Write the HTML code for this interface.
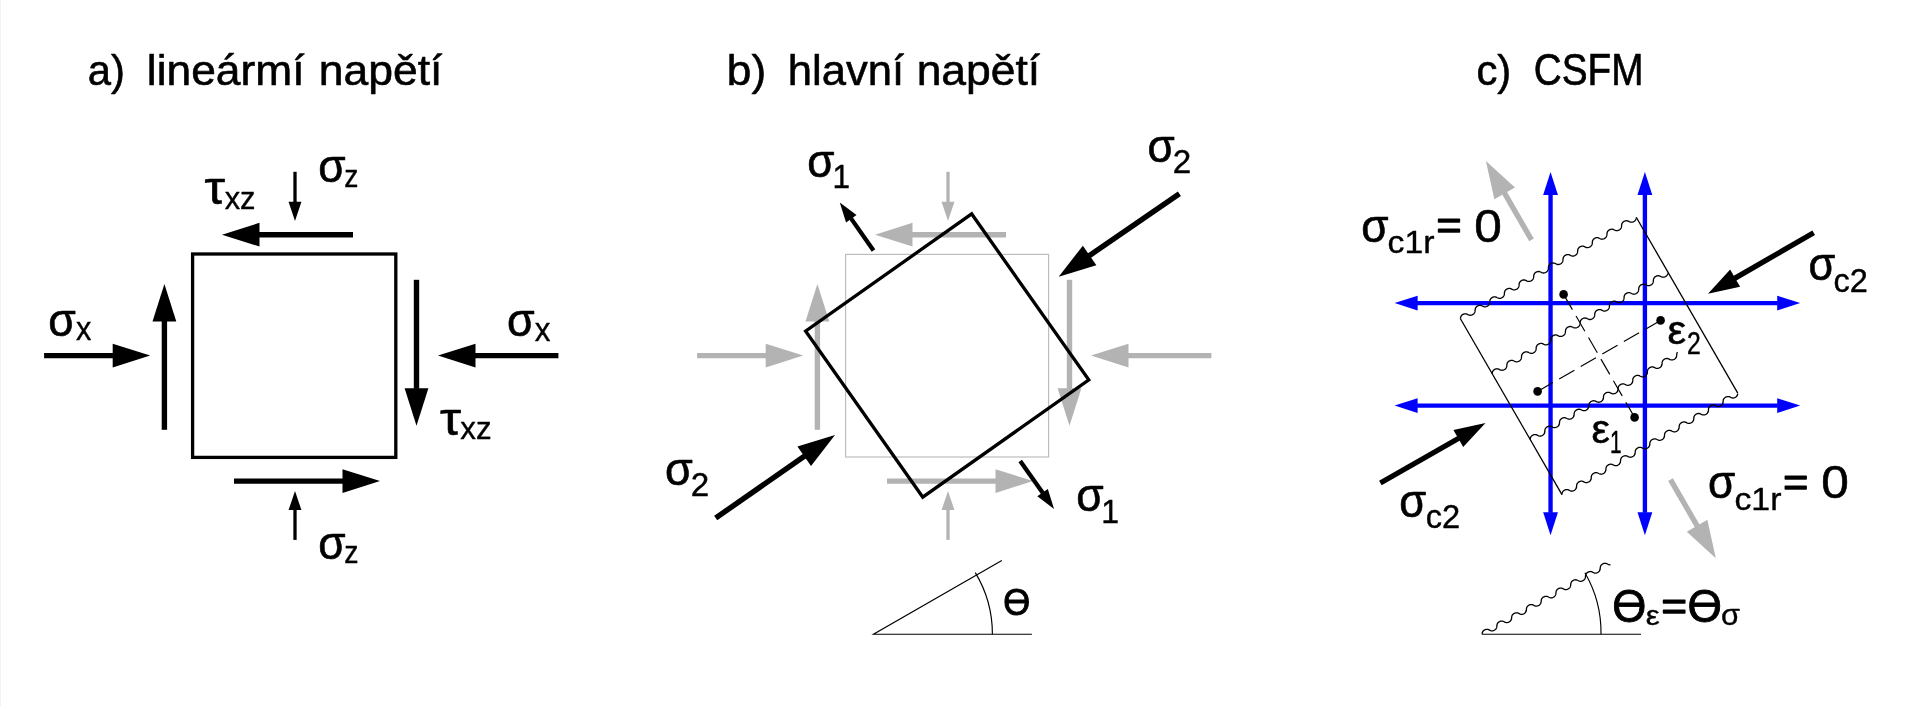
<!DOCTYPE html>
<html lang="cs"><head><meta charset="utf-8"><title>lineární napětí, hlavní napětí, CSFM</title>
<style>
html,body{margin:0;padding:0;background:#fff;overflow:hidden}
svg{display:block;will-change:transform}
text{vector-effect:non-scaling-stroke;stroke-linejoin:round;font-family:"Liberation Sans",sans-serif;font-size:100px;font-kerning:none;white-space:pre}
</style></head><body>
<svg width="1917" height="706" viewBox="0 0 1917 706">
<rect width="1917" height="706" fill="#fff"/>
<rect x="0" y="0" width="1" height="706" fill="#f3f3f3"/>
<line x1="353.00" y1="234.70" x2="259.00" y2="234.70" stroke="#000" stroke-width="5.4"/>
<polygon points="222.00,234.70 259.50,222.80 259.50,246.60" fill="#000"/>
<line x1="234.00" y1="481.10" x2="343.00" y2="481.10" stroke="#000" stroke-width="5.4"/>
<polygon points="380.00,481.10 342.50,493.00 342.50,469.20" fill="#000"/>
<line x1="164.40" y1="429.80" x2="164.40" y2="320.90" stroke="#000" stroke-width="5.4"/>
<polygon points="164.40,283.90 176.30,321.40 152.50,321.40" fill="#000"/>
<line x1="416.50" y1="279.80" x2="416.50" y2="388.80" stroke="#000" stroke-width="5.4"/>
<polygon points="416.50,425.80 404.60,388.30 428.40,388.30" fill="#000"/>
<line x1="44.10" y1="355.60" x2="113.20" y2="355.60" stroke="#000" stroke-width="5.4"/>
<polygon points="150.20,355.60 112.70,367.50 112.70,343.70" fill="#000"/>
<line x1="558.40" y1="355.60" x2="475.00" y2="355.60" stroke="#000" stroke-width="5.4"/>
<polygon points="438.00,355.60 475.50,343.70 475.50,367.50" fill="#000"/>
<line x1="295.00" y1="171.80" x2="295.00" y2="202.30" stroke="#000" stroke-width="3.3"/>
<polygon points="295.00,221.00 288.55,201.80 301.45,201.80" fill="#000"/>
<line x1="295.00" y1="539.90" x2="295.00" y2="509.60" stroke="#000" stroke-width="3.3"/>
<polygon points="295.00,490.90 301.45,510.10 288.55,510.10" fill="#000"/>
<rect x="192.6" y="254" width="203.2" height="203.4" fill="none" stroke="#000" stroke-width="3.3"/>
<rect x="845.6" y="254.4" width="203" height="202.6" fill="none" stroke="#bdbdbd" stroke-width="1.2"/>
<line x1="1006.00" y1="234.70" x2="912.00" y2="234.70" stroke="#b3b3b3" stroke-width="5.4"/>
<polygon points="875.00,234.70 912.50,222.80 912.50,246.60" fill="#b3b3b3"/>
<line x1="887.00" y1="481.10" x2="996.00" y2="481.10" stroke="#b3b3b3" stroke-width="5.4"/>
<polygon points="1033.00,481.10 995.50,493.00 995.50,469.20" fill="#b3b3b3"/>
<line x1="817.40" y1="429.80" x2="817.40" y2="320.90" stroke="#b3b3b3" stroke-width="5.4"/>
<polygon points="817.40,283.90 829.30,321.40 805.50,321.40" fill="#b3b3b3"/>
<line x1="1069.50" y1="279.80" x2="1069.50" y2="388.80" stroke="#b3b3b3" stroke-width="5.4"/>
<polygon points="1069.50,425.80 1057.60,388.30 1081.40,388.30" fill="#b3b3b3"/>
<line x1="697.10" y1="355.60" x2="766.20" y2="355.60" stroke="#b3b3b3" stroke-width="5.4"/>
<polygon points="803.20,355.60 765.70,367.50 765.70,343.70" fill="#b3b3b3"/>
<line x1="1211.40" y1="355.60" x2="1128.00" y2="355.60" stroke="#b3b3b3" stroke-width="5.4"/>
<polygon points="1091.00,355.60 1128.50,343.70 1128.50,367.50" fill="#b3b3b3"/>
<line x1="948.00" y1="171.80" x2="948.00" y2="202.30" stroke="#b3b3b3" stroke-width="3.3"/>
<polygon points="948.00,221.00 941.55,201.80 954.45,201.80" fill="#b3b3b3"/>
<line x1="948.00" y1="539.90" x2="948.00" y2="509.60" stroke="#b3b3b3" stroke-width="3.3"/>
<polygon points="948.00,490.90 954.45,510.10 941.55,510.10" fill="#b3b3b3"/>
<rect x="845.6" y="253.9" width="203.2" height="203.2" fill="none" stroke="#000" stroke-width="3.3" transform="rotate(-35.2 947.2 355.5)"/>
<line x1="1179.40" y1="193.70" x2="1089.19" y2="255.74" stroke="#000" stroke-width="5.4"/>
<polygon points="1058.70,276.70 1082.86,245.65 1096.34,265.26" fill="#000"/>
<line x1="715.70" y1="518.00" x2="804.64" y2="456.05" stroke="#000" stroke-width="5.4"/>
<polygon points="835.00,434.90 811.03,466.10 797.43,446.57" fill="#000"/>
<line x1="873.50" y1="250.50" x2="850.99" y2="218.37" stroke="#000" stroke-width="4.3"/>
<polygon points="839.80,202.40 856.52,215.11 846.03,222.45" fill="#000"/>
<line x1="1020.20" y1="461.00" x2="1042.85" y2="493.07" stroke="#000" stroke-width="4.3"/>
<polygon points="1054.10,509.00 1037.33,496.36 1047.79,488.97" fill="#000"/>
<path d="M1031.9,634.2 L873.5,634.2 L1001.8,560.4" fill="none" stroke="#000" stroke-width="1.15"/>
<path d="M992.4,634.2 A118.9,118.9 0 0 0 975.3,572.6" fill="none" stroke="#000" stroke-width="1.15"/>
<line x1="1550.55" y1="194.60" x2="1550.55" y2="512.70" stroke="#0000ff" stroke-width="4.35"/>
<polygon points="1550.55,172.10 1543.15,195.10 1557.95,195.10" fill="#0000ff"/>
<polygon points="1550.55,535.20 1557.95,512.20 1543.15,512.20" fill="#0000ff"/>
<line x1="1644.90" y1="194.60" x2="1644.90" y2="512.70" stroke="#0000ff" stroke-width="4.35"/>
<polygon points="1644.90,172.10 1637.50,195.10 1652.30,195.10" fill="#0000ff"/>
<polygon points="1644.90,535.20 1652.30,512.20 1637.50,512.20" fill="#0000ff"/>
<line x1="1417.10" y1="303.10" x2="1777.70" y2="303.10" stroke="#0000ff" stroke-width="4.35"/>
<polygon points="1394.60,303.10 1417.60,310.50 1417.60,295.70" fill="#0000ff"/>
<polygon points="1800.20,303.10 1777.20,295.70 1777.20,310.50" fill="#0000ff"/>
<line x1="1417.10" y1="405.60" x2="1777.70" y2="405.60" stroke="#0000ff" stroke-width="4.35"/>
<polygon points="1394.60,405.60 1417.60,413.00 1417.60,398.20" fill="#0000ff"/>
<polygon points="1800.20,405.60 1777.20,398.20 1777.20,413.00" fill="#0000ff"/>
<line x1="1460.45" y1="318.75" x2="1561.95" y2="494.55" stroke="#000" stroke-width="1.3"/>
<line x1="1636.25" y1="217.25" x2="1737.75" y2="393.05" stroke="#000" stroke-width="1.3"/>
<path d="M1460.45,318.75 L1460.48,318.15 L1460.56,317.56 L1460.71,316.97 L1460.95,316.39 L1461.30,315.83 L1461.77,315.30 L1462.32,314.82 L1462.96,314.41 L1463.63,314.10 L1464.33,313.88 L1465.01,313.78 L1465.66,313.79 L1466.28,313.89 L1466.85,314.08 L1467.40,314.33 L1467.93,314.60 L1468.47,314.86 L1469.03,315.07 L1469.62,315.22 L1470.26,315.27 L1470.93,315.21 L1471.62,315.04 L1472.31,314.77 L1472.97,314.40 L1473.56,313.95 L1474.06,313.44 L1474.46,312.89 L1474.75,312.31 L1474.94,311.72 L1475.04,311.13 L1475.09,310.54 L1475.12,309.94 L1475.17,309.35 L1475.29,308.76 L1475.49,308.17 L1475.79,307.60 L1476.21,307.05 L1476.73,306.55 L1477.34,306.12 L1478.00,305.76 L1478.69,305.50 L1479.38,305.35 L1480.05,305.31 L1480.68,305.38 L1481.27,305.54 L1481.82,305.76 L1482.36,306.03 L1482.89,306.29 L1483.44,306.53 L1484.02,306.71 L1484.64,306.80 L1485.30,306.79 L1485.99,306.67 L1486.68,306.44 L1487.35,306.10 L1487.97,305.68 L1488.52,305.20 L1488.96,304.66 L1489.29,304.10 L1489.52,303.51 L1489.65,302.92 L1489.72,302.33 L1489.75,301.73 L1489.79,301.14 L1489.88,300.54 L1490.04,299.95 L1490.30,299.37 L1490.68,298.82 L1491.15,298.30 L1491.73,297.83 L1492.37,297.44 L1493.05,297.14 L1493.74,296.94 L1494.42,296.86 L1495.07,296.88 L1495.68,297.00 L1496.25,297.21 L1496.79,297.46 L1497.32,297.73 L1497.86,297.98 L1498.42,298.19 L1499.03,298.32 L1499.67,298.35 L1500.35,298.27 L1501.04,298.09 L1501.73,297.79 L1502.37,297.41 L1502.95,296.95 L1503.44,296.43 L1503.82,295.88 L1504.09,295.30 L1504.26,294.71 L1504.35,294.12 L1504.39,293.52 L1504.42,292.93 L1504.49,292.33 L1504.61,291.74 L1504.83,291.16 L1505.16,290.59 L1505.59,290.05 L1506.13,289.56 L1506.75,289.13 L1507.41,288.79 L1508.11,288.55 L1508.79,288.42 L1509.46,288.40 L1510.08,288.48 L1510.66,288.66 L1511.22,288.89 L1511.75,289.16 L1512.28,289.42 L1512.83,289.65 L1513.42,289.82 L1514.05,289.89 L1514.71,289.86 L1515.40,289.72 L1516.09,289.47 L1516.76,289.12 L1517.37,288.69 L1517.90,288.19 L1518.32,287.65 L1518.64,287.08 L1518.85,286.50 L1518.97,285.90 L1519.03,285.31 L1519.06,284.72 L1519.10,284.12 L1519.20,283.53 L1519.38,282.94 L1519.66,282.36 L1520.05,281.81 L1520.55,281.30 L1521.13,280.84 L1521.78,280.46 L1522.47,280.18 L1523.16,280.00 L1523.84,279.94 L1524.48,279.98 L1525.08,280.12 L1525.64,280.33 L1526.18,280.59 L1526.71,280.86 L1527.25,281.10 L1527.82,281.30 L1528.43,281.41 L1529.08,281.43 L1529.77,281.33 L1530.46,281.13 L1531.14,280.82 L1531.78,280.42 L1532.34,279.95 L1532.81,279.42 L1533.17,278.86 L1533.43,278.28 L1533.58,277.69 L1533.66,277.10 L1533.70,276.50 L1533.73,275.91 L1533.80,275.32 L1533.94,274.72 L1534.18,274.14 L1534.52,273.58 L1534.98,273.05 L1535.53,272.56 L1536.16,272.15 L1536.83,271.83 L1537.52,271.60 L1538.21,271.49 L1538.87,271.49 L1539.48,271.59 L1540.06,271.77 L1540.61,272.02 L1541.14,272.29 L1541.67,272.55 L1542.23,272.77 L1542.82,272.92 L1543.46,272.98 L1544.13,272.93 L1544.82,272.77 L1545.51,272.50 L1546.17,272.14 L1546.77,271.69 L1547.28,271.19 L1547.69,270.64 L1547.98,270.07 L1548.18,269.48 L1548.28,268.89 L1548.33,268.29 L1548.37,267.70 L1548.42,267.10 L1548.52,266.51 L1548.72,265.92 L1549.02,265.35 L1549.43,264.80 L1549.94,264.30 L1550.54,263.86 L1551.20,263.49 L1551.89,263.23 L1552.58,263.07 L1553.25,263.02 L1553.88,263.08 L1554.47,263.23 L1555.03,263.45 L1555.57,263.71 L1556.10,263.98 L1556.65,264.22 L1557.22,264.41 L1557.84,264.51 L1558.50,264.50 L1559.18,264.39 L1559.88,264.17 L1560.55,263.84 L1561.18,263.43 L1561.73,262.95 L1562.18,262.41 L1562.52,261.85 L1562.76,261.27 L1562.90,260.68 L1562.97,260.08 L1563.00,259.49 L1563.04,258.89 L1563.12,258.30 L1563.28,257.71 L1563.53,257.13 L1563.89,256.57 L1564.36,256.04 L1564.93,255.57 L1565.57,255.17 L1566.25,254.87 L1566.94,254.66 L1567.62,254.57 L1568.27,254.58 L1568.88,254.70 L1569.45,254.90 L1570.00,255.14 L1570.53,255.41 L1571.07,255.67 L1571.63,255.88 L1572.23,256.02 L1572.87,256.06 L1573.54,255.99 L1574.24,255.81 L1574.92,255.53 L1575.57,255.15 L1576.16,254.70 L1576.66,254.18 L1577.04,253.63 L1577.32,253.05 L1577.50,252.46 L1577.60,251.87 L1577.64,251.28 L1577.67,250.68 L1577.73,250.09 L1577.85,249.50 L1578.06,248.91 L1578.38,248.34 L1578.81,247.80 L1579.33,247.30 L1579.95,246.87 L1580.61,246.52 L1581.30,246.28 L1581.99,246.14 L1582.66,246.11 L1583.28,246.18 L1583.87,246.35 L1584.42,246.58 L1584.96,246.84 L1585.49,247.11 L1586.04,247.34 L1586.62,247.51 L1587.25,247.60 L1587.91,247.58 L1588.60,247.44 L1589.29,247.20 L1589.96,246.86 L1590.58,246.44 L1591.11,245.94 L1591.55,245.40 L1591.87,244.84 L1592.09,244.25 L1592.21,243.66 L1592.28,243.07 L1592.31,242.47 L1592.35,241.88 L1592.44,241.28 L1592.61,240.69 L1592.88,240.12 L1593.27,239.56 L1593.75,239.04 L1594.33,238.58 L1594.98,238.20 L1595.66,237.91 L1596.36,237.72 L1597.03,237.65 L1597.68,237.68 L1598.28,237.81 L1598.85,238.02 L1599.39,238.27 L1599.92,238.54 L1600.46,238.79 L1601.03,238.99 L1601.63,239.12 L1602.28,239.14 L1602.96,239.05 L1603.65,238.86 L1604.34,238.56 L1604.98,238.16 L1605.55,237.70 L1606.03,237.18 L1606.40,236.62 L1606.66,236.04 L1606.82,235.45 L1606.91,234.85 L1606.95,234.26 L1606.98,233.67 L1607.05,233.07 L1607.18,232.48 L1607.41,231.90 L1607.74,231.33 L1608.19,230.79 L1608.73,230.31 L1609.35,229.89 L1610.03,229.56 L1610.72,229.33 L1611.41,229.21 L1612.07,229.20 L1612.69,229.29 L1613.27,229.47 L1613.81,229.70 L1614.35,229.97 L1614.88,230.24 L1615.44,230.46 L1616.03,230.62 L1616.66,230.68 L1617.33,230.64 L1618.02,230.49 L1618.71,230.23 L1619.37,229.88 L1619.97,229.44 L1620.49,228.94 L1620.91,228.39 L1621.22,227.82 L1621.42,227.24 L1621.53,226.64 L1621.58,226.05 L1621.61,225.45 L1621.66,224.86 L1621.76,224.27 L1621.95,223.68 L1622.24,223.10 L1622.64,222.55 L1623.15,222.05 L1623.74,221.60 L1624.39,221.23 L1625.08,220.95 L1625.77,220.78 L1626.45,220.73 L1627.08,220.78 L1627.68,220.92 L1628.24,221.14 L1628.78,221.40 L1629.31,221.67 L1629.85,221.91 L1630.43,222.10 L1631.04,222.21 L1631.69,222.22 L1632.38,222.11 L1633.07,221.90 L1633.75,221.58 L1634.38,221.17 L1634.94,220.70 L1635.40,220.17 L1635.75,219.60 L1635.99,219.02 L1636.14,218.43 L1636.22,217.84" fill="none" stroke="#000" stroke-width="1.3" stroke-linejoin="round"/>
<path d="M1492.20,373.74 L1492.23,373.15 L1492.31,372.55 L1492.46,371.96 L1492.70,371.38 L1493.05,370.82 L1493.52,370.29 L1494.07,369.81 L1494.71,369.41 L1495.38,369.09 L1496.08,368.88 L1496.76,368.77 L1497.41,368.78 L1498.03,368.89 L1498.60,369.08 L1499.15,369.32 L1499.68,369.59 L1500.22,369.85 L1500.78,370.07 L1501.37,370.21 L1502.01,370.26 L1502.68,370.20 L1503.37,370.04 L1504.06,369.76 L1504.72,369.39 L1505.31,368.94 L1505.81,368.43 L1506.21,367.88 L1506.50,367.31 L1506.69,366.72 L1506.79,366.12 L1506.84,365.53 L1506.87,364.94 L1506.92,364.34 L1507.04,363.75 L1507.24,363.16 L1507.54,362.59 L1507.96,362.05 L1508.48,361.55 L1509.09,361.11 L1509.75,360.75 L1510.44,360.49 L1511.13,360.34 L1511.80,360.31 L1512.43,360.37 L1513.02,360.53 L1513.57,360.76 L1514.11,361.02 L1514.64,361.29 L1515.19,361.53 L1515.77,361.70 L1516.39,361.79 L1517.05,361.78 L1517.74,361.66 L1518.43,361.43 L1519.10,361.10 L1519.72,360.68 L1520.27,360.19 L1520.71,359.65 L1521.04,359.09 L1521.27,358.50 L1521.40,357.91 L1521.47,357.32 L1521.50,356.72 L1521.54,356.13 L1521.63,355.54 L1521.79,354.95 L1522.05,354.37 L1522.43,353.81 L1522.90,353.29 L1523.48,352.82 L1524.12,352.43 L1524.80,352.13 L1525.49,351.93 L1526.17,351.85 L1526.82,351.87 L1527.43,352.00 L1528.00,352.20 L1528.54,352.45 L1529.07,352.72 L1529.61,352.97 L1530.17,353.18 L1530.78,353.31 L1531.42,353.34 L1532.10,353.27 L1532.79,353.08 L1533.48,352.79 L1534.12,352.40 L1534.70,351.94 L1535.19,351.42 L1535.57,350.87 L1535.84,350.29 L1536.01,349.70 L1536.10,349.11 L1536.14,348.51 L1536.17,347.92 L1536.24,347.32 L1536.36,346.73 L1536.58,346.15 L1536.91,345.58 L1537.34,345.04 L1537.88,344.55 L1538.50,344.13 L1539.16,343.78 L1539.86,343.54 L1540.54,343.41 L1541.21,343.39 L1541.83,343.48 L1542.41,343.65 L1542.97,343.88 L1543.50,344.15 L1544.03,344.41 L1544.58,344.64 L1545.17,344.81 L1545.80,344.88 L1546.46,344.85 L1547.15,344.71 L1547.84,344.46 L1548.51,344.11 L1549.12,343.68 L1549.65,343.19 L1550.07,342.64 L1550.39,342.07 L1550.60,341.49 L1550.72,340.90 L1550.78,340.30 L1550.81,339.71 L1550.85,339.11 L1550.95,338.52 L1551.13,337.93 L1551.41,337.35 L1551.80,336.80 L1552.30,336.29 L1552.88,335.83 L1553.53,335.46 L1554.22,335.17 L1554.91,335.00 L1555.59,334.93 L1556.23,334.97 L1556.83,335.11 L1557.39,335.32 L1557.93,335.58 L1558.46,335.85 L1559.00,336.10 L1559.57,336.29 L1560.18,336.41 L1560.83,336.42 L1561.52,336.33 L1562.21,336.12 L1562.89,335.81 L1563.53,335.41 L1564.09,334.94 L1564.56,334.42 L1564.92,333.86 L1565.18,333.28 L1565.33,332.69 L1565.41,332.09 L1565.45,331.50 L1565.48,330.90 L1565.55,330.31 L1565.69,329.72 L1565.93,329.13 L1566.27,328.57 L1566.73,328.04 L1567.28,327.56 L1567.91,327.14 L1568.58,326.82 L1569.27,326.60 L1569.96,326.49 L1570.62,326.48 L1571.23,326.58 L1571.81,326.77 L1572.36,327.01 L1572.89,327.28 L1573.42,327.54 L1573.98,327.76 L1574.57,327.91 L1575.21,327.97 L1575.88,327.92 L1576.57,327.76 L1577.26,327.49 L1577.92,327.13 L1578.52,326.69 L1579.03,326.18 L1579.44,325.63 L1579.73,325.06 L1579.93,324.47 L1580.03,323.88 L1580.08,323.29 L1580.12,322.69 L1580.17,322.10 L1580.27,321.50 L1580.47,320.92 L1580.77,320.34 L1581.18,319.80 L1581.69,319.29 L1582.29,318.85 L1582.95,318.49 L1583.64,318.22 L1584.33,318.06 L1585.00,318.01 L1585.63,318.07 L1586.22,318.22 L1586.78,318.45 L1587.32,318.71 L1587.85,318.98 L1588.40,319.22 L1588.97,319.40 L1589.59,319.50 L1590.25,319.50 L1590.93,319.38 L1591.63,319.16 L1592.30,318.83 L1592.93,318.42 L1593.48,317.94 L1593.93,317.41 L1594.27,316.84 L1594.51,316.26 L1594.65,315.67 L1594.72,315.07 L1594.75,314.48 L1594.79,313.89 L1594.87,313.29 L1595.03,312.70 L1595.28,312.12 L1595.64,311.56 L1596.11,311.04 L1596.68,310.57 L1597.32,310.17 L1598.00,309.86 L1598.69,309.65 L1599.37,309.56 L1600.02,309.58 L1600.63,309.69 L1601.20,309.89 L1601.75,310.14 L1602.28,310.41 L1602.82,310.66 L1603.38,310.87 L1603.98,311.01 L1604.62,311.05 L1605.29,310.99 L1605.99,310.81 L1606.67,310.52 L1607.32,310.14 L1607.91,309.69 L1608.41,309.18 L1608.79,308.62 L1609.07,308.05 L1609.25,307.46 L1609.35,306.86 L1609.39,306.27 L1609.42,305.67 L1609.48,305.08 L1609.60,304.49 L1609.81,303.90 L1610.13,303.33 L1610.56,302.79 L1611.08,302.30 L1611.70,301.86 L1612.36,301.52 L1613.05,301.27 L1613.74,301.13 L1614.41,301.10 L1615.03,301.18 L1615.62,301.34 L1616.17,301.57 L1616.71,301.84 L1617.24,302.10 L1617.79,302.34 L1618.37,302.51 L1619.00,302.59 L1619.66,302.57 L1620.35,302.44 L1621.04,302.19 L1621.71,301.85 L1622.33,301.43 L1622.86,300.94 L1623.30,300.40 L1623.62,299.83 L1623.84,299.24 L1623.96,298.65 L1624.03,298.06 L1624.06,297.46 L1624.10,296.87 L1624.19,296.28 L1624.36,295.69 L1624.63,295.11 L1625.02,294.55 L1625.50,294.04 L1626.08,293.58 L1626.73,293.19 L1627.41,292.90 L1628.11,292.71 L1628.78,292.64 L1629.43,292.67 L1630.03,292.80 L1630.60,293.01 L1631.14,293.26 L1631.67,293.53 L1632.21,293.79 L1632.78,293.99 L1633.38,294.11 L1634.03,294.13 L1634.71,294.05 L1635.40,293.85 L1636.09,293.55 L1636.73,293.16 L1637.30,292.69 L1637.78,292.17 L1638.15,291.61 L1638.41,291.03 L1638.57,290.44 L1638.66,289.85 L1638.70,289.25 L1638.73,288.66 L1638.80,288.06 L1638.93,287.47 L1639.16,286.89 L1639.49,286.32 L1639.94,285.79 L1640.48,285.30 L1641.10,284.88 L1641.78,284.55 L1642.47,284.32 L1643.16,284.20 L1643.82,284.19 L1644.44,284.28 L1645.02,284.46 L1645.56,284.70 L1646.10,284.96 L1646.63,285.23 L1647.19,285.45 L1647.78,285.61 L1648.41,285.68 L1649.08,285.64 L1649.77,285.49 L1650.46,285.23 L1651.12,284.87 L1651.72,284.43 L1652.24,283.93 L1652.66,283.39 L1652.97,282.81 L1653.17,282.23 L1653.28,281.64 L1653.33,281.04 L1653.36,280.45 L1653.41,279.85 L1653.51,279.26 L1653.70,278.67 L1653.99,278.10 L1654.39,277.55 L1654.90,277.04 L1655.49,276.59 L1656.14,276.22 L1656.83,275.94 L1657.52,275.78 L1658.20,275.72 L1658.83,275.77 L1659.43,275.92 L1659.99,276.13 L1660.53,276.39 L1661.06,276.66 L1661.60,276.91 L1662.18,277.10 L1662.79,277.20 L1663.44,277.21 L1664.13,277.10 L1664.82,276.89 L1665.50,276.57 L1666.13,276.17 L1666.69,275.69 L1667.15,275.16 L1667.50,274.60 L1667.74,274.02 L1667.89,273.42 L1667.97,272.83" fill="none" stroke="#000" stroke-width="1.3" stroke-linejoin="round"/>
<path d="M1530.20,439.56 L1530.23,438.96 L1530.31,438.37 L1530.46,437.78 L1530.70,437.20 L1531.05,436.64 L1531.52,436.11 L1532.07,435.63 L1532.71,435.23 L1533.38,434.91 L1534.08,434.69 L1534.76,434.59 L1535.41,434.60 L1536.03,434.70 L1536.60,434.89 L1537.15,435.14 L1537.68,435.41 L1538.22,435.67 L1538.78,435.88 L1539.37,436.03 L1540.01,436.08 L1540.68,436.02 L1541.37,435.85 L1542.06,435.58 L1542.72,435.21 L1543.31,434.76 L1543.81,434.25 L1544.21,433.70 L1544.50,433.12 L1544.69,432.54 L1544.79,431.94 L1544.84,431.35 L1544.87,430.75 L1544.92,430.16 L1545.04,429.57 L1545.24,428.98 L1545.54,428.41 L1545.96,427.86 L1546.48,427.36 L1547.09,426.93 L1547.75,426.57 L1548.44,426.31 L1549.13,426.16 L1549.80,426.12 L1550.43,426.19 L1551.02,426.35 L1551.57,426.57 L1552.11,426.84 L1552.64,427.11 L1553.19,427.34 L1553.77,427.52 L1554.39,427.61 L1555.05,427.60 L1555.74,427.48 L1556.43,427.25 L1557.10,426.91 L1557.72,426.49 L1558.27,426.01 L1558.71,425.47 L1559.04,424.91 L1559.27,424.32 L1559.40,423.73 L1559.47,423.14 L1559.50,422.54 L1559.54,421.95 L1559.63,421.35 L1559.79,420.76 L1560.05,420.19 L1560.43,419.63 L1560.90,419.11 L1561.48,418.64 L1562.12,418.25 L1562.80,417.95 L1563.49,417.75 L1564.17,417.67 L1564.82,417.69 L1565.43,417.82 L1566.00,418.02 L1566.54,418.27 L1567.07,418.54 L1567.61,418.79 L1568.17,419.00 L1568.78,419.13 L1569.42,419.16 L1570.10,419.08 L1570.79,418.90 L1571.48,418.61 L1572.12,418.22 L1572.70,417.76 L1573.19,417.24 L1573.57,416.69 L1573.84,416.11 L1574.01,415.52 L1574.10,414.93 L1574.14,414.33 L1574.17,413.74 L1574.24,413.14 L1574.36,412.55 L1574.58,411.97 L1574.91,411.40 L1575.34,410.86 L1575.88,410.37 L1576.50,409.94 L1577.16,409.60 L1577.86,409.36 L1578.54,409.23 L1579.21,409.21 L1579.83,409.29 L1580.41,409.47 L1580.97,409.70 L1581.50,409.97 L1582.03,410.23 L1582.58,410.46 L1583.17,410.63 L1583.80,410.70 L1584.46,410.67 L1585.15,410.53 L1585.84,410.28 L1586.51,409.93 L1587.12,409.50 L1587.65,409.00 L1588.07,408.46 L1588.39,407.89 L1588.60,407.31 L1588.72,406.71 L1588.78,406.12 L1588.81,405.53 L1588.85,404.93 L1588.95,404.34 L1589.13,403.75 L1589.41,403.17 L1589.80,402.62 L1590.30,402.11 L1590.88,401.65 L1591.53,401.27 L1592.22,400.99 L1592.91,400.81 L1593.59,400.75 L1594.23,400.79 L1594.83,400.93 L1595.39,401.14 L1595.93,401.40 L1596.46,401.67 L1597.00,401.91 L1597.57,402.11 L1598.18,402.22 L1598.83,402.24 L1599.52,402.14 L1600.21,401.94 L1600.89,401.63 L1601.53,401.23 L1602.09,400.76 L1602.56,400.23 L1602.92,399.67 L1603.18,399.09 L1603.33,398.50 L1603.41,397.91 L1603.45,397.31 L1603.48,396.72 L1603.55,396.13 L1603.69,395.53 L1603.93,394.95 L1604.27,394.39 L1604.73,393.86 L1605.28,393.37 L1605.91,392.96 L1606.58,392.64 L1607.27,392.42 L1607.96,392.30 L1608.62,392.30 L1609.23,392.40 L1609.81,392.59 L1610.36,392.83 L1610.89,393.10 L1611.42,393.36 L1611.98,393.58 L1612.57,393.73 L1613.21,393.79 L1613.88,393.74 L1614.57,393.58 L1615.26,393.31 L1615.92,392.95 L1616.52,392.50 L1617.03,392.00 L1617.44,391.45 L1617.73,390.88 L1617.93,390.29 L1618.03,389.70 L1618.08,389.10 L1618.12,388.51 L1618.17,387.91 L1618.27,387.32 L1618.47,386.73 L1618.77,386.16 L1619.18,385.61 L1619.69,385.11 L1620.29,384.67 L1620.95,384.30 L1621.64,384.04 L1622.33,383.88 L1623.00,383.83 L1623.63,383.89 L1624.22,384.04 L1624.78,384.26 L1625.32,384.52 L1625.85,384.79 L1626.40,385.03 L1626.97,385.22 L1627.59,385.32 L1628.25,385.31 L1628.93,385.20 L1629.63,384.98 L1630.30,384.65 L1630.93,384.24 L1631.48,383.76 L1631.93,383.23 L1632.27,382.66 L1632.51,382.08 L1632.65,381.49 L1632.72,380.89 L1632.75,380.30 L1632.79,379.70 L1632.87,379.11 L1633.03,378.52 L1633.28,377.94 L1633.64,377.38 L1634.11,376.85 L1634.68,376.38 L1635.32,375.99 L1636.00,375.68 L1636.69,375.47 L1637.37,375.38 L1638.02,375.39 L1638.63,375.51 L1639.20,375.71 L1639.75,375.95 L1640.28,376.22 L1640.82,376.48 L1641.38,376.69 L1641.98,376.83 L1642.62,376.87 L1643.29,376.80 L1643.99,376.62 L1644.67,376.34 L1645.32,375.96 L1645.91,375.51 L1646.41,374.99 L1646.79,374.44 L1647.07,373.86 L1647.25,373.27 L1647.35,372.68 L1647.39,372.09 L1647.42,371.49 L1647.48,370.90 L1647.60,370.31 L1647.81,369.72 L1648.13,369.15 L1648.56,368.61 L1649.08,368.11 L1649.70,367.68 L1650.36,367.33 L1651.05,367.09 L1651.74,366.95 L1652.41,366.92 L1653.03,366.99 L1653.62,367.16 L1654.17,367.39 L1654.71,367.65 L1655.24,367.92 L1655.79,368.15 L1656.37,368.32 L1657.00,368.41 L1657.66,368.39 L1658.35,368.25 L1659.04,368.01 L1659.71,367.67 L1660.33,367.25 L1660.86,366.75 L1661.30,366.22 L1661.62,365.65 L1661.84,365.06 L1661.96,364.47 L1662.03,363.88 L1662.06,363.28 L1662.10,362.69 L1662.19,362.09 L1662.36,361.50 L1662.63,360.93 L1663.02,360.37 L1663.50,359.85 L1664.08,359.39 L1664.73,359.01 L1665.41,358.72 L1666.11,358.53 L1666.78,358.46 L1667.43,358.49 L1668.03,358.62 L1668.60,358.83 L1669.14,359.08 L1669.67,359.35 L1670.21,359.60 L1670.78,359.80 L1671.38,359.93 L1672.03,359.95 L1672.71,359.86 L1673.40,359.67 L1674.09,359.37 L1674.73,358.97 L1675.30,358.51 L1675.78,357.99 L1676.15,357.43 L1676.41,356.85 L1676.57,356.26 L1676.66,355.66 L1676.70,355.07 L1676.73,354.48 L1676.80,353.88 L1676.93,353.29 L1677.16,352.71 L1677.49,352.14" fill="none" stroke="#000" stroke-width="1.3" stroke-linejoin="round"/>
<path d="M1561.95,494.55 L1561.98,493.96 L1562.06,493.36 L1562.21,492.77 L1562.45,492.19 L1562.80,491.63 L1563.27,491.10 L1563.82,490.62 L1564.46,490.22 L1565.13,489.90 L1565.83,489.69 L1566.51,489.58 L1567.16,489.59 L1567.78,489.70 L1568.35,489.89 L1568.90,490.13 L1569.43,490.40 L1569.97,490.66 L1570.53,490.88 L1571.12,491.02 L1571.76,491.07 L1572.43,491.01 L1573.12,490.85 L1573.81,490.57 L1574.47,490.20 L1575.06,489.75 L1575.56,489.24 L1575.96,488.69 L1576.25,488.12 L1576.44,487.53 L1576.54,486.93 L1576.59,486.34 L1576.62,485.75 L1576.67,485.15 L1576.79,484.56 L1576.99,483.97 L1577.29,483.40 L1577.71,482.86 L1578.23,482.36 L1578.84,481.92 L1579.50,481.56 L1580.19,481.30 L1580.88,481.15 L1581.55,481.12 L1582.18,481.18 L1582.77,481.34 L1583.32,481.57 L1583.86,481.83 L1584.39,482.10 L1584.94,482.34 L1585.52,482.51 L1586.14,482.60 L1586.80,482.59 L1587.49,482.47 L1588.18,482.24 L1588.85,481.91 L1589.47,481.49 L1590.02,481.00 L1590.46,480.47 L1590.79,479.90 L1591.02,479.32 L1591.15,478.72 L1591.22,478.13 L1591.25,477.53 L1591.29,476.94 L1591.38,476.35 L1591.54,475.76 L1591.80,475.18 L1592.18,474.62 L1592.65,474.10 L1593.23,473.63 L1593.87,473.24 L1594.55,472.94 L1595.24,472.74 L1595.92,472.66 L1596.57,472.68 L1597.18,472.81 L1597.75,473.01 L1598.29,473.26 L1598.82,473.53 L1599.36,473.78 L1599.92,473.99 L1600.53,474.12 L1601.17,474.15 L1601.85,474.08 L1602.54,473.89 L1603.23,473.60 L1603.87,473.21 L1604.45,472.75 L1604.94,472.23 L1605.32,471.68 L1605.59,471.10 L1605.76,470.51 L1605.85,469.92 L1605.89,469.32 L1605.92,468.73 L1605.99,468.14 L1606.11,467.54 L1606.33,466.96 L1606.66,466.39 L1607.09,465.85 L1607.63,465.36 L1608.25,464.94 L1608.91,464.60 L1609.61,464.35 L1610.29,464.22 L1610.96,464.20 L1611.58,464.29 L1612.16,464.46 L1612.72,464.69 L1613.25,464.96 L1613.78,465.22 L1614.33,465.45 L1614.92,465.62 L1615.55,465.69 L1616.21,465.66 L1616.90,465.52 L1617.59,465.27 L1618.26,464.92 L1618.87,464.49 L1619.40,464.00 L1619.82,463.46 L1620.14,462.89 L1620.35,462.30 L1620.47,461.71 L1620.53,461.11 L1620.56,460.52 L1620.60,459.92 L1620.70,459.33 L1620.88,458.74 L1621.16,458.17 L1621.55,457.61 L1622.05,457.10 L1622.63,456.64 L1623.28,456.27 L1623.97,455.98 L1624.66,455.81 L1625.34,455.74 L1625.98,455.78 L1626.58,455.92 L1627.14,456.13 L1627.68,456.39 L1628.21,456.66 L1628.75,456.91 L1629.32,457.10 L1629.93,457.22 L1630.58,457.23 L1631.27,457.14 L1631.96,456.93 L1632.64,456.62 L1633.28,456.22 L1633.84,455.75 L1634.31,455.23 L1634.67,454.67 L1634.93,454.09 L1635.08,453.50 L1635.16,452.90 L1635.20,452.31 L1635.23,451.71 L1635.30,451.12 L1635.44,450.53 L1635.68,449.94 L1636.02,449.38 L1636.48,448.85 L1637.03,448.37 L1637.66,447.96 L1638.33,447.63 L1639.02,447.41 L1639.71,447.30 L1640.37,447.29 L1640.98,447.39 L1641.56,447.58 L1642.11,447.82 L1642.64,448.09 L1643.17,448.35 L1643.73,448.57 L1644.32,448.72 L1644.96,448.78 L1645.63,448.73 L1646.32,448.57 L1647.01,448.30 L1647.67,447.94 L1648.27,447.50 L1648.78,446.99 L1649.19,446.44 L1649.48,445.87 L1649.68,445.28 L1649.78,444.69 L1649.83,444.10 L1649.87,443.50 L1649.92,442.91 L1650.02,442.31 L1650.22,441.73 L1650.52,441.15 L1650.93,440.61 L1651.44,440.10 L1652.04,439.66 L1652.70,439.30 L1653.39,439.03 L1654.08,438.87 L1654.75,438.82 L1655.38,438.88 L1655.97,439.03 L1656.53,439.26 L1657.07,439.52 L1657.60,439.79 L1658.15,440.03 L1658.72,440.21 L1659.34,440.31 L1660.00,440.31 L1660.68,440.19 L1661.38,439.97 L1662.05,439.64 L1662.68,439.23 L1663.23,438.75 L1663.68,438.22 L1664.02,437.65 L1664.26,437.07 L1664.40,436.48 L1664.47,435.89 L1664.50,435.29 L1664.54,434.70 L1664.62,434.10 L1664.78,433.51 L1665.03,432.93 L1665.39,432.37 L1665.86,431.85 L1666.43,431.38 L1667.07,430.98 L1667.75,430.67 L1668.44,430.46 L1669.12,430.37 L1669.77,430.39 L1670.38,430.50 L1670.95,430.70 L1671.50,430.95 L1672.03,431.22 L1672.57,431.47 L1673.13,431.68 L1673.73,431.82 L1674.37,431.86 L1675.04,431.80 L1675.74,431.62 L1676.42,431.33 L1677.07,430.95 L1677.66,430.50 L1678.16,429.99 L1678.54,429.43 L1678.82,428.86 L1679.00,428.27 L1679.10,427.67 L1679.14,427.08 L1679.17,426.49 L1679.23,425.89 L1679.35,425.30 L1679.56,424.71 L1679.88,424.14 L1680.31,423.60 L1680.83,423.11 L1681.45,422.68 L1682.11,422.33 L1682.80,422.08 L1683.49,421.94 L1684.16,421.91 L1684.78,421.99 L1685.37,422.15 L1685.92,422.38 L1686.46,422.65 L1686.99,422.91 L1687.54,423.15 L1688.12,423.32 L1688.75,423.40 L1689.41,423.38 L1690.10,423.25 L1690.79,423.01 L1691.46,422.66 L1692.08,422.24 L1692.61,421.75 L1693.05,421.21 L1693.37,420.64 L1693.59,420.05 L1693.71,419.46 L1693.78,418.87 L1693.81,418.27 L1693.85,417.68 L1693.94,417.09 L1694.11,416.50 L1694.38,415.92 L1694.77,415.36 L1695.25,414.85 L1695.83,414.39 L1696.48,414.00 L1697.16,413.71 L1697.86,413.52 L1698.53,413.45 L1699.18,413.48 L1699.78,413.61 L1700.35,413.82 L1700.89,414.08 L1701.42,414.35 L1701.96,414.60 L1702.53,414.80 L1703.13,414.92 L1703.78,414.94 L1704.46,414.86 L1705.15,414.66 L1705.84,414.36 L1706.48,413.97 L1707.05,413.50 L1707.53,412.98 L1707.90,412.42 L1708.16,411.84 L1708.32,411.25 L1708.41,410.66 L1708.45,410.06 L1708.48,409.47 L1708.55,408.87 L1708.68,408.28 L1708.91,407.70 L1709.24,407.13 L1709.69,406.60 L1710.23,406.11 L1710.85,405.69 L1711.53,405.36 L1712.22,405.13 L1712.91,405.01 L1713.57,405.00 L1714.19,405.09 L1714.77,405.27 L1715.31,405.51 L1715.85,405.78 L1716.38,406.04 L1716.94,406.26 L1717.53,406.42 L1718.16,406.49 L1718.83,406.45 L1719.52,406.30 L1720.21,406.04 L1720.87,405.68 L1721.47,405.24 L1721.99,404.74 L1722.41,404.20 L1722.72,403.63 L1722.92,403.04 L1723.03,402.45 L1723.08,401.85 L1723.11,401.26 L1723.16,400.66 L1723.26,400.07 L1723.45,399.48 L1723.74,398.91 L1724.14,398.36 L1724.65,397.85 L1725.24,397.40 L1725.89,397.03 L1726.58,396.76 L1727.27,396.59 L1727.95,396.53 L1728.58,396.58 L1729.18,396.73 L1729.74,396.94 L1730.28,397.20 L1730.81,397.47 L1731.35,397.72 L1731.93,397.91 L1732.54,398.01 L1733.19,398.02 L1733.88,397.91 L1734.57,397.70 L1735.25,397.38 L1735.88,396.98 L1736.44,396.50 L1736.90,395.97 L1737.25,395.41 L1737.49,394.83 L1737.64,394.23 L1737.72,393.64" fill="none" stroke="#000" stroke-width="1.3" stroke-linejoin="round"/>
<line x1="1537.61" y1="391.40" x2="1660.59" y2="320.40" stroke="#000" stroke-width="1.15" stroke-dasharray="17.6 7.3"/>
<circle cx="1537.61" cy="391.40" r="4.3" fill="#000"/>
<circle cx="1660.59" cy="320.40" r="4.3" fill="#000"/>
<line x1="1563.60" y1="294.41" x2="1634.60" y2="417.39" stroke="#000" stroke-width="1.15" stroke-dasharray="17.6 7.3"/>
<circle cx="1563.60" cy="294.41" r="4.3" fill="#000"/>
<circle cx="1634.60" cy="417.39" r="4.3" fill="#000"/>
<line x1="1813.70" y1="232.75" x2="1734.67" y2="278.40" stroke="#000" stroke-width="5.3"/>
<polygon points="1708.00,293.80 1730.15,269.57 1740.06,286.72" fill="#000"/>
<line x1="1380.40" y1="483.00" x2="1458.75" y2="438.27" stroke="#000" stroke-width="5.3"/>
<polygon points="1485.50,423.00 1463.23,447.12 1453.41,429.92" fill="#000"/>
<line x1="1531.50" y1="239.80" x2="1504.41" y2="192.93" stroke="#b3b3b3" stroke-width="5.4"/>
<polygon points="1485.90,160.90 1514.97,187.41 1494.36,199.32" fill="#b3b3b3"/>
<line x1="1670.50" y1="479.60" x2="1697.32" y2="526.14" stroke="#b3b3b3" stroke-width="5.4"/>
<polygon points="1715.80,558.20 1686.76,531.65 1707.38,519.77" fill="#b3b3b3"/>
<line x1="1482.1" y1="634.2" x2="1641" y2="634.2" stroke="#000" stroke-width="1.15"/>
<path d="M1482.10,634.20 L1482.14,633.61 L1482.23,633.01 L1482.38,632.42 L1482.64,631.85 L1483.00,631.29 L1483.47,630.77 L1484.03,630.30 L1484.67,629.90 L1485.35,629.59 L1486.05,629.39 L1486.73,629.30 L1487.38,629.31 L1488.00,629.43 L1488.57,629.63 L1489.11,629.88 L1489.64,630.15 L1490.17,630.42 L1490.73,630.65 L1491.32,630.80 L1491.96,630.86 L1492.63,630.81 L1493.33,630.65 L1494.02,630.38 L1494.68,630.02 L1495.28,629.58 L1495.79,629.08 L1496.19,628.54 L1496.49,627.96 L1496.68,627.38 L1496.79,626.79 L1496.85,626.19 L1496.89,625.60 L1496.95,625.01 L1497.08,624.42 L1497.28,623.83 L1497.60,623.26 L1498.03,622.73 L1498.55,622.23 L1499.16,621.80 L1499.83,621.46 L1500.52,621.21 L1501.22,621.07 L1501.88,621.04 L1502.51,621.12 L1503.10,621.28 L1503.65,621.52 L1504.19,621.79 L1504.71,622.06 L1505.26,622.31 L1505.84,622.49 L1506.46,622.59 L1507.12,622.59 L1507.80,622.48 L1508.50,622.26 L1509.18,621.93 L1509.80,621.52 L1510.35,621.04 L1510.81,620.51 L1511.15,619.95 L1511.38,619.37 L1511.52,618.78 L1511.60,618.19 L1511.64,617.59 L1511.69,617.00 L1511.78,616.41 L1511.95,615.82 L1512.22,615.24 L1512.60,614.69 L1513.09,614.18 L1513.67,613.72 L1514.31,613.34 L1515.00,613.05 L1515.70,612.86 L1516.38,612.79 L1517.02,612.82 L1517.63,612.95 L1518.20,613.16 L1518.73,613.42 L1519.26,613.70 L1519.80,613.96 L1520.36,614.17 L1520.96,614.31 L1521.60,614.35 L1522.28,614.28 L1522.98,614.11 L1523.67,613.82 L1524.32,613.45 L1524.90,613.00 L1525.40,612.49 L1525.79,611.94 L1526.06,611.36 L1526.24,610.77 L1526.34,610.18 L1526.39,609.59 L1526.43,608.99 L1526.50,608.40 L1526.64,607.81 L1526.86,607.23 L1527.20,606.67 L1527.64,606.13 L1528.18,605.65 L1528.81,605.23 L1529.48,604.90 L1530.18,604.67 L1530.87,604.55 L1531.53,604.54 L1532.15,604.63 L1532.73,604.81 L1533.28,605.05 L1533.81,605.33 L1534.34,605.60 L1534.89,605.84 L1535.47,606.01 L1536.10,606.09 L1536.76,606.07 L1537.45,605.94 L1538.15,605.70 L1538.82,605.36 L1539.44,604.94 L1539.97,604.45 L1540.41,603.91 L1540.73,603.35 L1540.95,602.77 L1541.07,602.18 L1541.14,601.58 L1541.18,600.99 L1541.23,600.39 L1541.34,599.80 L1541.52,599.22 L1541.81,598.64 L1542.21,598.10 L1542.71,597.59 L1543.31,597.14 L1543.96,596.78 L1544.65,596.50 L1545.35,596.33 L1546.02,596.28 L1546.66,596.33 L1547.26,596.47 L1547.82,596.69 L1548.36,596.96 L1548.88,597.24 L1549.42,597.49 L1549.99,597.69 L1550.60,597.82 L1551.25,597.84 L1551.93,597.76 L1552.63,597.56 L1553.31,597.26 L1553.96,596.87 L1554.53,596.41 L1555.00,595.89 L1555.37,595.33 L1555.64,594.76 L1555.80,594.17 L1555.89,593.58 L1555.93,592.98 L1555.97,592.39 L1556.05,591.80 L1556.20,591.21 L1556.45,590.63 L1556.80,590.07 L1557.26,589.54 L1557.82,589.07 L1558.45,588.67 L1559.13,588.35 L1559.83,588.14 L1560.51,588.03 L1561.17,588.04 L1561.78,588.15 L1562.36,588.34 L1562.90,588.59 L1563.43,588.87 L1563.96,589.14 L1564.52,589.37 L1565.11,589.52 L1565.74,589.59 L1566.41,589.55 L1567.11,589.40 L1567.80,589.15 L1568.46,588.79 L1569.07,588.36 L1569.59,587.86 L1570.00,587.32 L1570.31,586.75 L1570.51,586.16 L1570.62,585.57 L1570.68,584.98 L1570.72,584.38 L1570.78,583.79 L1570.90,583.20 L1571.10,582.61 L1571.41,582.04 L1571.82,581.50 L1572.34,581.01 L1572.95,580.57 L1573.61,580.22 L1574.30,579.96 L1575.00,579.81 L1575.67,579.77 L1576.30,579.84 L1576.89,580.00 L1577.45,580.23 L1577.98,580.50 L1578.51,580.77 L1579.05,581.02 L1579.62,581.22 L1580.24,581.32 L1580.90,581.33 L1581.58,581.23 L1582.28,581.01 L1582.96,580.70 L1583.59,580.29 L1584.15,579.82 L1584.61,579.29 L1584.96,578.73 L1585.20,578.15 L1585.35,577.56 L1585.43,576.97 L1585.47,576.38 L1585.52,575.78 L1585.61,575.19 L1585.77,574.60 L1586.03,574.03 L1586.40,573.47 L1586.88,572.95 L1587.45,572.49 L1588.10,572.10 L1588.78,571.80 L1589.48,571.61 L1590.16,571.52 L1590.81,571.55 L1591.42,571.67 L1591.99,571.88 L1592.53,572.13 L1593.05,572.41 L1593.59,572.67 L1594.15,572.89 L1594.75,573.04 L1595.39,573.09 L1596.06,573.03 L1596.76,572.86 L1597.45,572.59 L1598.10,572.22 L1598.69,571.77 L1599.20,571.26 L1599.59,570.72 L1599.88,570.14 L1600.07,569.56 L1600.17,568.96 L1600.22,568.37 L1600.26,567.78 L1600.33,567.18 L1600.46,566.59 L1600.68,566.01 L1601.00,565.44 L1601.44,564.91 L1601.97,564.42 L1602.59,564.00 L1603.26,563.66 L1603.95,563.42 L1604.65,563.29 L1605.31,563.27 L1605.94,563.36 L1606.52,563.53 L1607.07,563.77 L1607.60,564.04 L1608.13,564.31 L1608.68,564.56 L1609.26,564.73 L1609.88,564.83 L1610.54,564.81" fill="none" stroke="#000" stroke-width="1.3" stroke-linejoin="round"/>
<path d="M1601,634.2 A118.9,118.9 0 0 0 1584.9,572.8" fill="none" stroke="#000" stroke-width="1.15"/>
<text transform="translate(87.82 85.00) scale(0.4180 0.4259)" fill="#000" stroke="#000" stroke-width="0.6">a)</text>
<text transform="translate(146.81 85.00) scale(0.4434 0.4259)" fill="#000" stroke="#000" stroke-width="0.6">lineármí</text>
<text transform="translate(318.85 85.00) scale(0.4448 0.4259)" fill="#000" stroke="#000" stroke-width="0.6">napětí</text>
<text transform="translate(726.85 85.00) scale(0.4419 0.4259)" fill="#000" stroke="#000" stroke-width="0.6">b)</text>
<text transform="translate(787.77 85.00) scale(0.4364 0.4259)" fill="#000" stroke="#000" stroke-width="0.6">hlavní</text>
<text transform="translate(916.65 85.00) scale(0.4444 0.4259)" fill="#000" stroke="#000" stroke-width="0.6">napětí</text>
<text transform="translate(1476.43 85.00) scale(0.4173 0.4259)" fill="#000" stroke="#000" stroke-width="0.6">c)</text>
<text transform="translate(1533.83 85.00) scale(0.3870 0.4390)" fill="#000" stroke="#000" stroke-width="0.6">CSFM</text>
<text transform="translate(204.46 204.00) scale(0.5207 0.4694)" fill="#000" stroke="#000" stroke-width="0.6">τ</text>
<text transform="translate(224.65 209.00) scale(0.3089 0.3218)" fill="#000" stroke="#000" stroke-width="0.4">xz</text>
<text transform="translate(318.14 182.00) scale(0.4428 0.4562)" fill="#000" stroke="#000" stroke-width="0.6">σ</text>
<text transform="translate(344.15 187.00) scale(0.2832 0.3218)" fill="#000" stroke="#000" stroke-width="0.4">z</text>
<text transform="translate(48.13 336.00) scale(0.4464 0.4562)" fill="#000" stroke="#000" stroke-width="0.6">σ</text>
<text transform="translate(75.95 340.00) scale(0.3075 0.3256)" fill="#000" stroke="#000" stroke-width="0.4">x</text>
<text transform="translate(507.12 336.00) scale(0.4482 0.4562)" fill="#000" stroke="#000" stroke-width="0.6">σ</text>
<text transform="translate(534.85 341.00) scale(0.3138 0.3256)" fill="#000" stroke="#000" stroke-width="0.4">x</text>
<text transform="translate(439.94 435.00) scale(0.5341 0.4694)" fill="#000" stroke="#000" stroke-width="0.6">τ</text>
<text transform="translate(460.25 439.00) scale(0.3131 0.3218)" fill="#000" stroke="#000" stroke-width="0.4">xz</text>
<text transform="translate(318.14 559.00) scale(0.4428 0.4562)" fill="#000" stroke="#000" stroke-width="0.6">σ</text>
<text transform="translate(344.14 563.00) scale(0.2856 0.3218)" fill="#000" stroke="#000" stroke-width="0.4">z</text>
<text transform="translate(807.15 177.00) scale(0.4410 0.4562)" fill="#000" stroke="#000" stroke-width="0.6">σ</text>
<text transform="translate(832.60 188.00) scale(0.3154 0.3256)" fill="#000" stroke="#000" stroke-width="0.4">1</text>
<text transform="translate(1147.45 162.00) scale(0.4410 0.4562)" fill="#000" stroke="#000" stroke-width="0.6">σ</text>
<text transform="translate(1172.73 173.00) scale(0.3315 0.3285)" fill="#000" stroke="#000" stroke-width="0.4">2</text>
<text transform="translate(664.91 485.00) scale(0.4500 0.4562)" fill="#000" stroke="#000" stroke-width="0.6">σ</text>
<text transform="translate(690.83 496.00) scale(0.3315 0.3285)" fill="#000" stroke="#000" stroke-width="0.4">2</text>
<text transform="translate(1076.13 511.00) scale(0.4446 0.4562)" fill="#000" stroke="#000" stroke-width="0.6">σ</text>
<text transform="translate(1101.36 523.00) scale(0.3201 0.3285)" fill="#000" stroke="#000" stroke-width="0.4">1</text>
<text transform="translate(1003.36 615.00) scale(0.3457 0.3779)" fill="#000" stroke="#000" stroke-width="1.0">ϴ</text>
<text transform="translate(1361.14 242.00) scale(0.4428 0.4562)" fill="#000" stroke="#000" stroke-width="0.6">σ</text>
<text transform="translate(1387.56 253.00) scale(0.3383 0.3198)" fill="#000" stroke="#000" stroke-width="0.4">c1r</text>
<text transform="translate(1436.41 239.00) scale(0.4281 0.3863)" fill="#000" stroke="#000" stroke-width="1.5">=</text>
<text transform="translate(1474.36 242.00) scale(0.4958 0.4579)" fill="#000" stroke="#000" stroke-width="0.6">0</text>
<text transform="translate(1708.04 498.00) scale(0.4428 0.4562)" fill="#000" stroke="#000" stroke-width="0.6">σ</text>
<text transform="translate(1734.46 510.00) scale(0.3383 0.3198)" fill="#000" stroke="#000" stroke-width="0.4">c1r</text>
<text transform="translate(1783.31 496.00) scale(0.4281 0.3863)" fill="#000" stroke="#000" stroke-width="1.5">=</text>
<text transform="translate(1821.26 498.00) scale(0.4958 0.4579)" fill="#000" stroke="#000" stroke-width="0.6">0</text>
<text transform="translate(1808.38 280.00) scale(0.4339 0.4562)" fill="#000" stroke="#000" stroke-width="0.6">σ</text>
<text transform="translate(1833.62 292.00) scale(0.3249 0.3299)" fill="#000" stroke="#000" stroke-width="0.4">c2</text>
<text transform="translate(1399.16 517.00) scale(0.4375 0.4562)" fill="#000" stroke="#000" stroke-width="0.6">σ</text>
<text transform="translate(1425.82 528.00) scale(0.3259 0.3299)" fill="#000" stroke="#000" stroke-width="0.4">c2</text>
<text transform="translate(1667.47 344.00) scale(0.4178 0.4070)" fill="#000" stroke="#000" stroke-width="0.6">ε</text>
<text transform="translate(1686.95 354.00) scale(0.2480 0.3081)" fill="#000" stroke="#000" stroke-width="0.4">2</text>
<text transform="translate(1591.39 443.00) scale(0.4127 0.3975)" fill="#000" stroke="#000" stroke-width="0.6">ε</text>
<text transform="translate(1609.91 453.00) scale(0.2087 0.3169)" fill="#000" stroke="#000" stroke-width="0.4">1</text>
<text transform="translate(1612.23 622.00) scale(0.4380 0.4579)" fill="#000" stroke="#000" stroke-width="0.9">ϴ</text>
<text transform="translate(1645.83 625.00) scale(0.3133 0.2763)" fill="#000" stroke="#000" stroke-width="0.4">ε</text>
<text transform="translate(1661.48 620.00) scale(0.4343 0.3863)" fill="#000" stroke="#000" stroke-width="1.6">=</text>
<text transform="translate(1687.50 622.00) scale(0.4424 0.4579)" fill="#000" stroke="#000" stroke-width="0.9">ϴ</text>
<text transform="translate(1721.11 625.00) scale(0.3071 0.2896)" fill="#000" stroke="#000" stroke-width="0.4">σ</text>
</svg>
</body></html>
